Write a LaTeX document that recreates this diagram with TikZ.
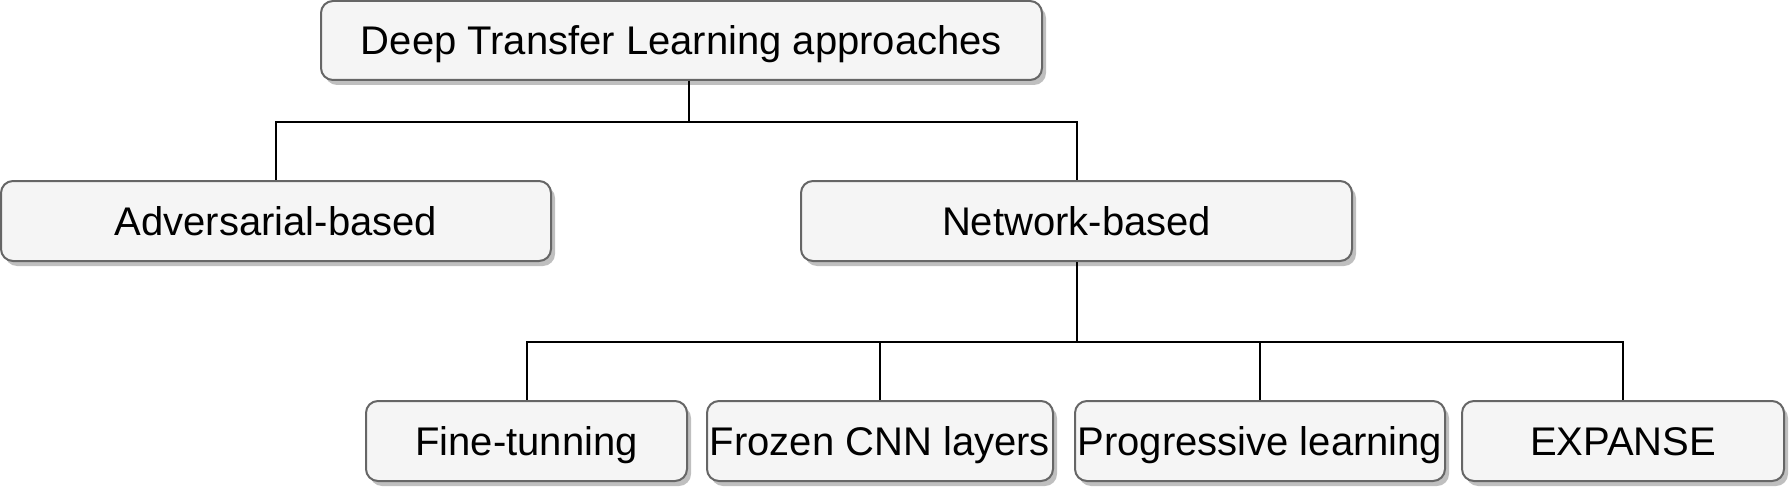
\documentclass[tikz,border=0pt]{standalone}
\usepackage{fontspec}
\setmainfont{Liberation Sans}
\usetikzlibrary{positioning,shadows}
\definecolor{boxfill}{HTML}{F5F5F5}
\definecolor{boxline}{HTML}{666666}

\begin{document}
\begin{tikzpicture}[x=1pt,y=-1pt,every node/.style={font=\fontsize{40}{48}\selectfont,align=center,inner sep=0pt},approach/.style={draw=boxline,line width=2pt,rounded corners=12pt,fill=boxfill,minimum height=80pt,text height=29pt,text depth=0pt,drop shadow={shadow xshift=4pt,shadow yshift=-5pt,fill=black!25,opacity=1}},link/.style={line width=2pt}]
\useasboundingbox (0,0) rectangle (1790,492);
\node[approach,minimum width=721pt,minimum height=79pt] (root) at (681.5,40.5) {Deep Transfer Learning approaches};
\node[approach,minimum width=550pt] (adv) at (276,221) {Adversarial-based};
\node[approach,minimum width=551pt] (net) at (1076.5,221) {Network-based};
\node[approach,minimum width=321pt] (fine) at (526.5,441) {Fine-tunning};
\node[approach,minimum width=346pt] (frozen) at (880,441) {Frozen CNN layers};
\node[approach,minimum width=370pt] (prog) at (1260,441) {Progressive learning};
\node[approach,minimum width=322pt] (expanse) at (1623,441) {EXPANSE};
% tree connectors
\draw[link] ([xshift=7pt]root.south) -- ++(0,41) -| (adv.north);
\draw[link] ([xshift=7pt]root.south) -- ++(0,41) -| (net.north);
\foreach \leaf in {fine,frozen,prog,expanse}
  \draw[link] (net.south) -- ++(0,80) -| (\leaf.north);
\end{tikzpicture}
\end{document}
